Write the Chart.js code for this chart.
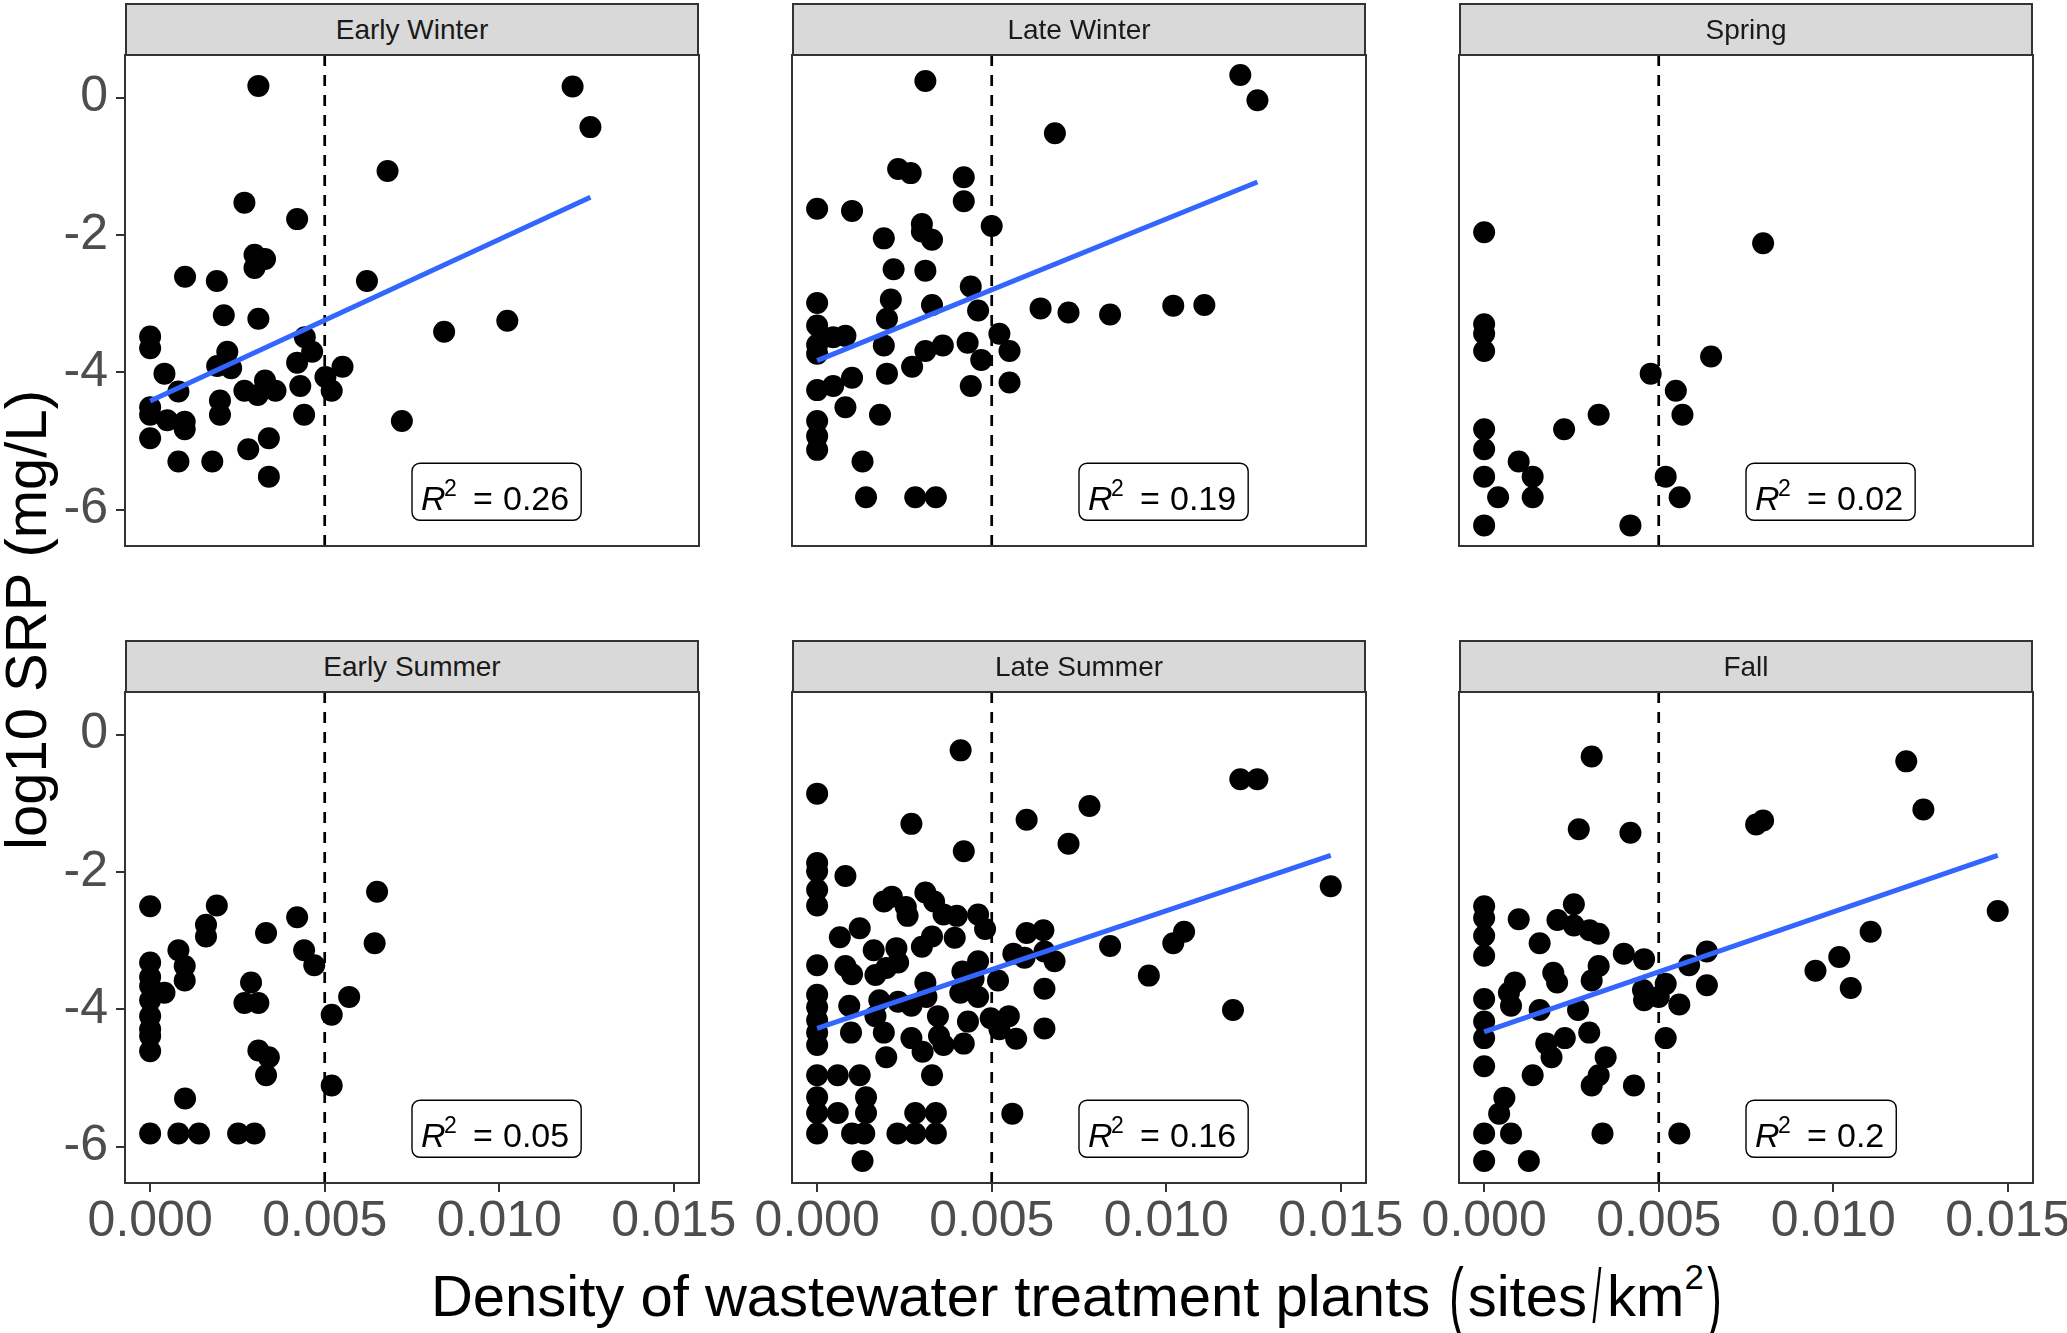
<!DOCTYPE html>
<html lang="en">
<head>
<meta charset="UTF-8">
<title>log10 SRP vs density of wastewater treatment plants</title>
<script src="https://cdn.jsdelivr.net/npm/chart.js"></script>
<style>
  body { margin: 0; background: #fff; font-family: "Liberation Sans", Arial, sans-serif; }
  #fig { position: relative; width: 2067px; height: 1333px; overflow: hidden; background: #fff; }
  #fig canvas { position: absolute; }
  .strip {
    position: absolute; box-sizing: border-box; width: 574px; height: 53px;
    background: #d9d9d9; border: 2px solid #333333; color: #1a1a1a;
    font-size: 28px; line-height: 49px; text-align: center; z-index: 2;
  }
  #ytitle {
    position: absolute; left: 25px; top: 620px; white-space: nowrap;
    font-size: 58px; color: #000;
    transform: translate(-50%, -50%) rotate(-90deg);
  }
  #xtitle {
    position: absolute; left: 1078px; top: 1249px; white-space: nowrap;
    font-size: 58px; line-height: 70px; color: #000;
    transform: translateX(-50%);
  }
  #xtitle .big { display: inline-block; transform: scale(0.75, 1.35); margin: 0 1px; }
  #xtitle .slash { display: inline-block; transform: scale(0.55, 1.3); margin: 0 2px; }
  #xtitle sup { font-size: 0.6em; position: relative; top: -0.2em; }
</style>
</head>
<body>
<div id="fig">
  <div id="ytitle">log10 SRP (mg/L)</div>
  <div id="xtitle">Density of wastewater treatment plants <span class="big">(</span>sites<span class="slash">/</span>km<sup>2</sup><span class="big">)</span></div>
</div>

<script>
// facet titles, in panel order (row by row)
const seasons = ['Early Winter', 'Late Winter', 'Spring', 'Early Summer', 'Late Summer', 'Fall'];

// Early Winter
const ewX = [0.0031, 0.0121, 0.01261, 0.0068, 0.0027, 0.00421, 0.00299, 0.00329, 0.00299, 0.0010,
  0.00191, 0.00621, 0.00211, 0.0031, 0.01023, 0.00842, 0, 0, 0.00443, 0.00464,
  0.00221, 0.00192, 0.00232, 0.00421, 0.00551, 0.00041, 0.00081, 0.0027, 0.00308, 0.00329,
  0.00359, 0.0043, 0.00502, 0.0052, 0, 0, 0.00049, 0.00099, 0.00099, 0.0020,
  0.0020, 0.00441, 0.00721, 0, 0.0034, 0.00281, 0.00081, 0.00178, 0.0034];
const ewY = [0.17, 0.16, -0.43, -1.07, -1.53, -1.77, -2.29, -2.35, -2.48, -2.61,
  -2.67, -2.67, -3.17, -3.22, -3.25, -3.41, -3.48, -3.65, -3.49, -3.70,
  -3.70, -3.91, -3.94, -3.86, -3.92, -4.02, -4.28, -4.27, -4.33, -4.12,
  -4.27, -4.20, -4.07, -4.27, -4.51, -4.62, -4.70, -4.72, -4.83, -4.41,
  -4.62, -4.62, -4.71, -4.96, -4.96, -5.12, -5.30, -5.30, -5.52];

// Late Winter
const lwX = [0.0031, 0.01212, 0.01261, 0.00681, 0.00232, 0.00268, 0.0042, 0.0042, 0, 0.0010,
  0.005, 0.003, 0.003, 0.00329, 0.00191, 0.00219, 0.0031, 0.0044, 0, 0.00211,
  0.00329, 0.00461, 0.0064, 0.0072, 0.00839, 0.0102, 0.01109, 0, 0.002, 0.00046,
  0.00081, 0, 0, 0.00191, 0.00522, 0.00551, 0.0036, 0.0031, 0.00431, 0.0047,
  0.00272, 0.002, 0.0010, 0.00046, 0, 0.0044, 0.00551, 0.00081, 0.0018, 0,
  0, 0, 0.0013, 0.0014, 0.00281, 0.0034];
const lwY = [0.24, 0.33, -0.04, -0.52, -1.04, -1.10, -1.16, -1.51, -1.62, -1.65,
  -1.87, -1.84, -1.95, -2.07, -2.05, -2.50, -2.52, -2.75, -2.99, -2.94,
  -3.02, -3.10, -3.07, -3.13, -3.16, -3.03, -3.02, -3.32, -3.22, -3.49,
  -3.47, -3.60, -3.73, -3.61, -3.44, -3.69, -3.61, -3.69, -3.57, -3.82,
  -3.92, -4.02, -4.08, -4.20, -4.26, -4.20, -4.15, -4.51, -4.62, -4.71,
  -4.93, -5.13, -5.30, -5.82, -5.82, -5.82];

// Spring
const spX = [0, 0.00799, 0, 0, 0, 0.0065, 0.00477, 0.00549, 0.00568, 0.00328,
  0.00229, 0, 0, 0.00099, 0.00139, 0, 0.0004, 0.00139, 0.0052, 0.0056,
  0, 0.00419];
const spY = [-1.96, -2.12, -3.30, -3.44, -3.69, -3.77, -4.02, -4.27, -4.62, -4.62,
  -4.83, -4.83, -5.12, -5.30, -5.52, -5.52, -5.82, -5.82, -5.52, -5.82,
  -6.23, -6.23];

// Early Summer
const esX = [0, 0.00191, 0.0065, 0.0016, 0.0016, 0.00421, 0.00332, 0.00081, 0.00441, 0.0047,
  0.00643, 0, 0.00099, 0.00099, 0, 0, 0.00041, 0, 0.00289, 0.0027,
  0.0031, 0.0057, 0.0052, 0, 0, 0, 0, 0.0031, 0.0034, 0.00332,
  0.0052, 0.0010, 0, 0.00081, 0.0014, 0.00252, 0.00299];
const esY = [-2.50, -2.49, -2.29, -2.77, -2.94, -2.66, -2.89, -3.14, -3.14, -3.36,
  -3.04, -3.32, -3.37, -3.58, -3.53, -3.66, -3.76, -3.87, -3.61, -3.91,
  -3.91, -3.82, -4.08, -4.10, -4.29, -4.39, -4.61, -4.60, -4.70, -4.96,
  -5.11, -5.30, -5.81, -5.81, -5.81, -5.81, -5.81];

// Late Summer
const lsX = [0.00411, 0, 0.01212, 0.01261, 0.0078, 0.0027, 0.006, 0.0072, 0.0042, 0,
  0, 0.00081, 0.01471, 0, 0, 0.0031, 0.00191, 0.00214, 0.00254, 0.00335,
  0.00259, 0.00362, 0.004, 0.00461, 0.00481, 0.00122, 0.006, 0.00648, 0.00065, 0.00329,
  0.00394, 0.01051, 0.0102, 0.00839, 0.003, 0.00227, 0.00162, 0.00562, 0.00594, 0.00651,
  0.0068, 0, 0.00081, 0.00461, 0.00232, 0.00198, 0.0010, 0.00167, 0.00416, 0.00448,
  0.0095, 0.00518, 0.0031, 0.00651, 0, 0, 0.00092, 0.00178, 0.00232, 0.0027,
  0.00313, 0.0041, 0.00461, 0.01191, 0.00167, 0.00346, 0, 0.00497, 0.00549, 0.00432,
  0, 0.00097, 0.00191, 0.0027, 0.00349, 0.00522, 0.0057, 0.00651, 0, 0.00302,
  0.00362, 0.0042, 0.00198, 0, 0.00059, 0.00122, 0.00329, 0, 0.0014, 0,
  0.00059, 0.0014, 0.00281, 0.0034, 0.00559, 0, 0.0010, 0.00135, 0.0023, 0.00281,
  0.0034, 0.0013];
const lsY = [-0.23, -0.86, -0.65, -0.65, -1.04, -1.30, -1.24, -1.59, -1.70, -1.87,
  -1.99, -2.06, -2.21, -2.26, -2.49, -2.30, -2.43, -2.36, -2.51, -2.43,
  -2.64, -2.62, -2.64, -2.62, -2.83, -2.82, -2.89, -2.85, -2.95, -2.94,
  -2.96, -2.87, -3.04, -3.08, -3.09, -3.11, -3.14, -3.19, -3.25, -3.16,
  -3.30, -3.36, -3.37, -3.30, -3.32, -3.40, -3.49, -3.50, -3.45, -3.56,
  -3.51, -3.58, -3.61, -3.70, -3.79, -3.97, -3.95, -3.87, -3.89, -3.95,
  -3.82, -3.76, -3.82, -4.01, -4.10, -4.10, -4.16, -4.13, -4.10, -4.18,
  -4.34, -4.34, -4.34, -4.42, -4.39, -4.29, -4.43, -4.28, -4.52, -4.62,
  -4.52, -4.50, -4.70, -4.96, -4.96, -4.96, -4.96, -5.28, -5.28, -5.51,
  -5.51, -5.51, -5.51, -5.51, -5.52, -5.81, -5.81, -5.81, -5.81, -5.81,
  -5.81, -6.21];

// Fall
const faX = [0.00308, 0.01209, 0.01258, 0.00271, 0.00419, 0.00779, 0.00799, 0.01471, 0, 0,
  0, 0, 0.00099, 0.00257, 0.0021, 0.00257, 0.00302, 0.00328, 0.00159, 0.004,
  0.00458, 0.01107, 0.00638, 0.00587, 0.01017, 0.00949, 0.0105, 0.00638, 0.00328, 0.00198,
  0.00308, 0.00209, 0.00088, 0.00071, 0.0052, 0.00455, 0.005, 0, 0.00077, 0.00458,
  0.00559, 0.00269, 0.00159, 0, 0, 0.00231, 0.00301, 0.00178, 0.0052, 0.00193,
  0.00348, 0, 0.00139, 0.00328, 0.00308, 0.00429, 0.00058, 0.00043, 0, 0.00077,
  0.00339, 0.00559, 0, 0.00128];
const faY = [-0.32, -0.39, -1.09, -1.38, -1.43, -1.31, -1.25, -2.57, -2.50, -2.67,
  -2.93, -3.22, -2.69, -2.47, -2.70, -2.78, -2.85, -2.90, -3.04, -3.19,
  -3.27, -2.87, -3.16, -3.36, -3.24, -3.44, -3.69, -3.65, -3.37, -3.47,
  -3.58, -3.61, -3.61, -3.76, -3.63, -3.72, -3.82, -3.85, -3.95, -3.87,
  -3.93, -4.01, -4.01, -4.18, -4.42, -4.42, -4.34, -4.50, -4.42, -4.70,
  -4.70, -4.83, -4.96, -4.96, -5.11, -5.11, -5.29, -5.52, -5.81, -5.81,
  -5.81, -5.81, -6.21, -6.21];

// linear fits (null = no fit drawn), start/end x and y
const fitX0 = [0, 0, null, null, 0, 0];
const fitX1 = [0.01261, 0.01261, null, null, 0.01471, 0.01471];
const fitY0 = [-4.42, -3.83, null, null, -4.28, -4.33];
const fitY1 = [-1.45, -1.23, null, null, -1.76, -1.76];
const r2Values = ['0.26', '0.19', '0.02', '0.05', '0.16', '0.2'];

// where the R² label sits (data units) and the density threshold line
const r2LabelX = 0.0075;
const r2LabelY = -5.74;
const threshold = 0.005;

const xTicks = [0, 0.005, 0.010, 0.015];
const yTicks = [0, -2, -4, -6];
const xLimits = [-0.00072, 0.01572];
const yLimits = [-6.53, 0.62];

const panelX = [ewX, lwX, spX, esX, lsX, faX];
const panelY = [ewY, lwY, spY, esY, lsY, faY];

const FONT = '"Liberation Sans", Arial, sans-serif';

// panel border
const framePlugin = {
    id: 'frame',
    afterDraw(chart) {
        const { ctx, chartArea: a } = chart;
        ctx.save();
        ctx.strokeStyle = '#333333';
        ctx.lineWidth = 2;
        ctx.strokeRect(a.left, a.top, a.right - a.left, a.bottom - a.top);
        ctx.restore();
    }
};

// R² label box, positioned through the chart scales
const r2Plugin = {
    id: 'r2Box',
    afterDatasetsDraw(chart, args, opts) {
        if (!opts.text) return;
        const ctx = chart.ctx;
        const left = chart.scales.x.getPixelForValue(r2LabelX);
        const cy = chart.scales.y.getPixelForValue(r2LabelY);
        const fs = 34, sup = 23;
        ctx.save();
        ctx.font = `${fs}px ${FONT}`;
        const wNum = ctx.measureText(opts.text).width;
        const w = 91 + wNum + 12;
        const h = 57;

        ctx.beginPath();
        ctx.roundRect(left, cy - h / 2, w, h, 8);
        ctx.fillStyle = '#ffffff';
        ctx.fill();
        ctx.lineWidth = 1.4;
        ctx.strokeStyle = '#000000';
        ctx.stroke();

        const base = cy + 18;
        ctx.fillStyle = '#000000';
        ctx.textAlign = 'left';
        ctx.textBaseline = 'alphabetic';
        ctx.font = `italic ${fs}px ${FONT}`;
        ctx.fillText('R', left + 9, base);
        ctx.font = `${sup}px ${FONT}`;
        ctx.fillText('2', left + 32, base - 14);
        ctx.font = `${fs}px ${FONT}`;
        ctx.fillText('=', left + 61, base);
        ctx.fillText(opts.text, left + 91, base);
        ctx.restore();
    }
};

const fig = document.getElementById('fig');
const colLeft = [125, 792, 1459];
const rowTop = [55, 692];
const PW = 574, PH = 491, YAX = 125, XAX = 95, PADT = 40, PADR = 80;

seasons.forEach((name, i) => {
    const col = i % 3, row = Math.floor(i / 3);
    const showY = col === 0, showX = row === 1;

    const strip = document.createElement('div');
    strip.className = 'strip';
    strip.textContent = name;
    strip.style.left = colLeft[col] + 'px';
    strip.style.top = (rowTop[row] - 52) + 'px';
    fig.appendChild(strip);

    const cv = document.createElement('canvas');
    cv.width = YAX + PW + PADR;
    cv.height = PADT + PH + XAX;
    cv.style.left = (colLeft[col] - YAX) + 'px';
    cv.style.top = (rowTop[row] - PADT) + 'px';
    fig.appendChild(cv);

    const datasets = [];
    if (fitX0[i] !== null) {
        datasets.push({
            type: 'line',
            data: [{ x: fitX0[i], y: fitY0[i] }, { x: fitX1[i], y: fitY1[i] }],
            borderColor: '#3366FF',
            borderWidth: 5,
            pointRadius: 0,
            showLine: true,
            order: 0
        });
    }
    datasets.push({
        type: 'line',
        data: [{ x: threshold, y: yLimits[0] }, { x: threshold, y: yLimits[1] }],
        borderColor: '#000000',
        borderWidth: 2.7,
        borderDash: [11, 9],
        pointRadius: 0,
        showLine: true,
        order: 1
    });
    datasets.push({
        type: 'scatter',
        data: panelX[i].map((x, k) => ({ x: x, y: panelY[i][k] })),
        backgroundColor: '#000000',
        borderWidth: 0,
        pointRadius: 11,
        pointHoverRadius: 11,
        order: 2
    });

    new Chart(cv, {
        type: 'scatter',
        data: { datasets: datasets },
        plugins: [framePlugin, r2Plugin],
        options: {
            responsive: false,
            animation: false,
            devicePixelRatio: 1,
            events: [],
            layout: { padding: { top: PADT, right: PADR, left: 0, bottom: 0 } },
            plugins: {
                legend: { display: false },
                tooltip: { enabled: false },
                r2Box: { text: r2Values[i] }
            },
            scales: {
                x: {
                    type: 'linear',
                    min: xLimits[0],
                    max: xLimits[1],
                    afterBuildTicks: s => { s.ticks = xTicks.map(v => ({ value: v })); },
                    afterFit: s => { s.height = XAX; },
                    border: { display: false },
                    grid: { display: showX, drawOnChartArea: false, drawTicks: true, tickLength: 9, color: '#333333', lineWidth: 2 },
                    ticks: {
                        display: showX,
                        autoSkip: false,
                        maxRotation: 0,
                        padding: 0,
                        color: '#4d4d4d',
                        font: { size: 50, family: FONT },
                        callback: v => v.toFixed(3)
                    }
                },
                y: {
                    type: 'linear',
                    min: yLimits[0],
                    max: yLimits[1],
                    afterBuildTicks: s => { s.ticks = yTicks.map(v => ({ value: v })); },
                    afterFit: s => { s.width = YAX; },
                    border: { display: false },
                    grid: { display: showY, drawOnChartArea: false, drawTicks: true, tickLength: 9, color: '#333333', lineWidth: 2 },
                    ticks: {
                        display: showY,
                        padding: 8,
                        color: '#4d4d4d',
                        font: { size: 50, family: FONT },
                        callback: v => String(v)
                    }
                }
            }
        }
    });
});
</script>
</body>
</html>
